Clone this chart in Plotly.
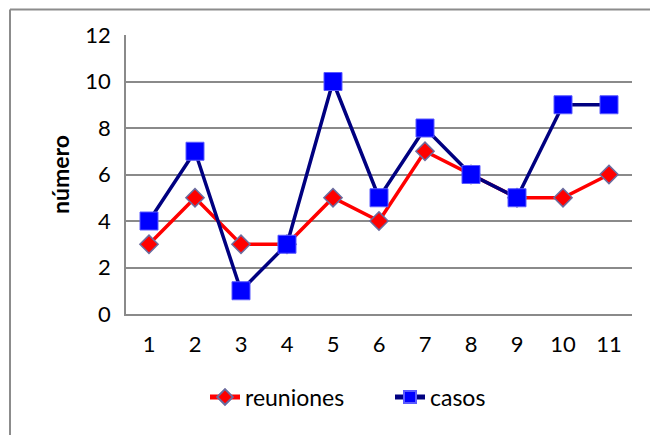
import plotly.graph_objects as go

categories = [1, 2, 3, 4, 5, 6, 7, 8, 9, 10, 11]
reuniones = [3, 5, 3, 3, 5, 4, 7, 6, 5, 5, 6]
casos = [4, 7, 1, 3, 10, 5, 8, 6, 5, 9, 9]
y_ticks = [0, 2, 4, 6, 8, 10, 12]

# page body has an 8px margin; figure sized to fit the window
OFF = 8
W, H = 658 - OFF, 435 - OFF
ML, MT = 126 - OFF, 35 - OFF
MR = 658 - 632
MB = 435 - 314
pw, ph = W - ML - MR, H - MT - MB

FONT = "Lato"
fig = go.Figure()
fig.add_trace(go.Scatter(
    x=categories, y=reuniones, name="reuniones", mode="lines+markers",
    line=dict(color="#FF0000", width=3.5),
    marker=dict(symbol="diamond", size=14, color="#FF0000",
                line=dict(color="#6B6B9E", width=1.5)),
))
fig.add_trace(go.Scatter(
    x=categories, y=casos, name="casos", mode="lines+markers",
    line=dict(color="#000080", width=3.5),
    marker=dict(symbol="square", size=18, color="#0000FF",
                line=dict(color="#5A5AFF", width=1)),
))

def px_x(p):
    # p in page pixels
    return (p - OFF - ML) / pw

def px_y(p):
    return (MT + ph - (p - OFF)) / ph

border = dict(color="#8C8C8C", width=2)
fig.add_shape(type="line", xref="paper", yref="paper",
              x0=px_x(10), x1=px_x(700), y0=px_y(9.5), y1=px_y(9.5), line=border)
fig.add_shape(type="line", xref="paper", yref="paper",
              x0=px_x(10), x1=px_x(10), y0=px_y(9.5), y1=px_y(480), line=border)

fig.update_layout(
    width=W, height=H,
    margin=dict(l=ML, r=MR, t=MT, b=MB, autoexpand=False),
    paper_bgcolor="white", plot_bgcolor="white",
    font=dict(family=FONT, size=22, color="#000000"),
    showlegend=True,
    legend=dict(orientation="h", xref="container", yref="container",
                x=(390 - OFF) / W, xanchor="center", y=1 - (397 - OFF) / H, yanchor="middle",
                font=dict(family=FONT, size=23), itemsizing="constant",
                entrywidth=140, bgcolor="rgba(0,0,0,0)"),
    xaxis=dict(
        tickmode="array", tickvals=categories, ticktext=[str(c) for c in categories],
        range=[0.5, 11.5], showgrid=False, showline=True, linecolor="#8A8A8A",
        linewidth=1.5, ticks="", ticklabelstandoff=10, zeroline=False,
        tickfont=dict(family=FONT, size=22),
    ),
    yaxis=dict(
        tickmode="array", tickvals=y_ticks, range=[0, 12],
        showgrid=True, gridcolor="#8A8A8A", gridwidth=1.5,
        showline=True, linecolor="#8A8A8A", linewidth=1.5,
        ticks="", ticklabelstandoff=9, zeroline=False,
        tickfont=dict(family=FONT, size=22),
        title=dict(text="<b>número</b>", font=dict(family=FONT, size=23), standoff=9),
    ),
)

fig.write_html("out.html")
